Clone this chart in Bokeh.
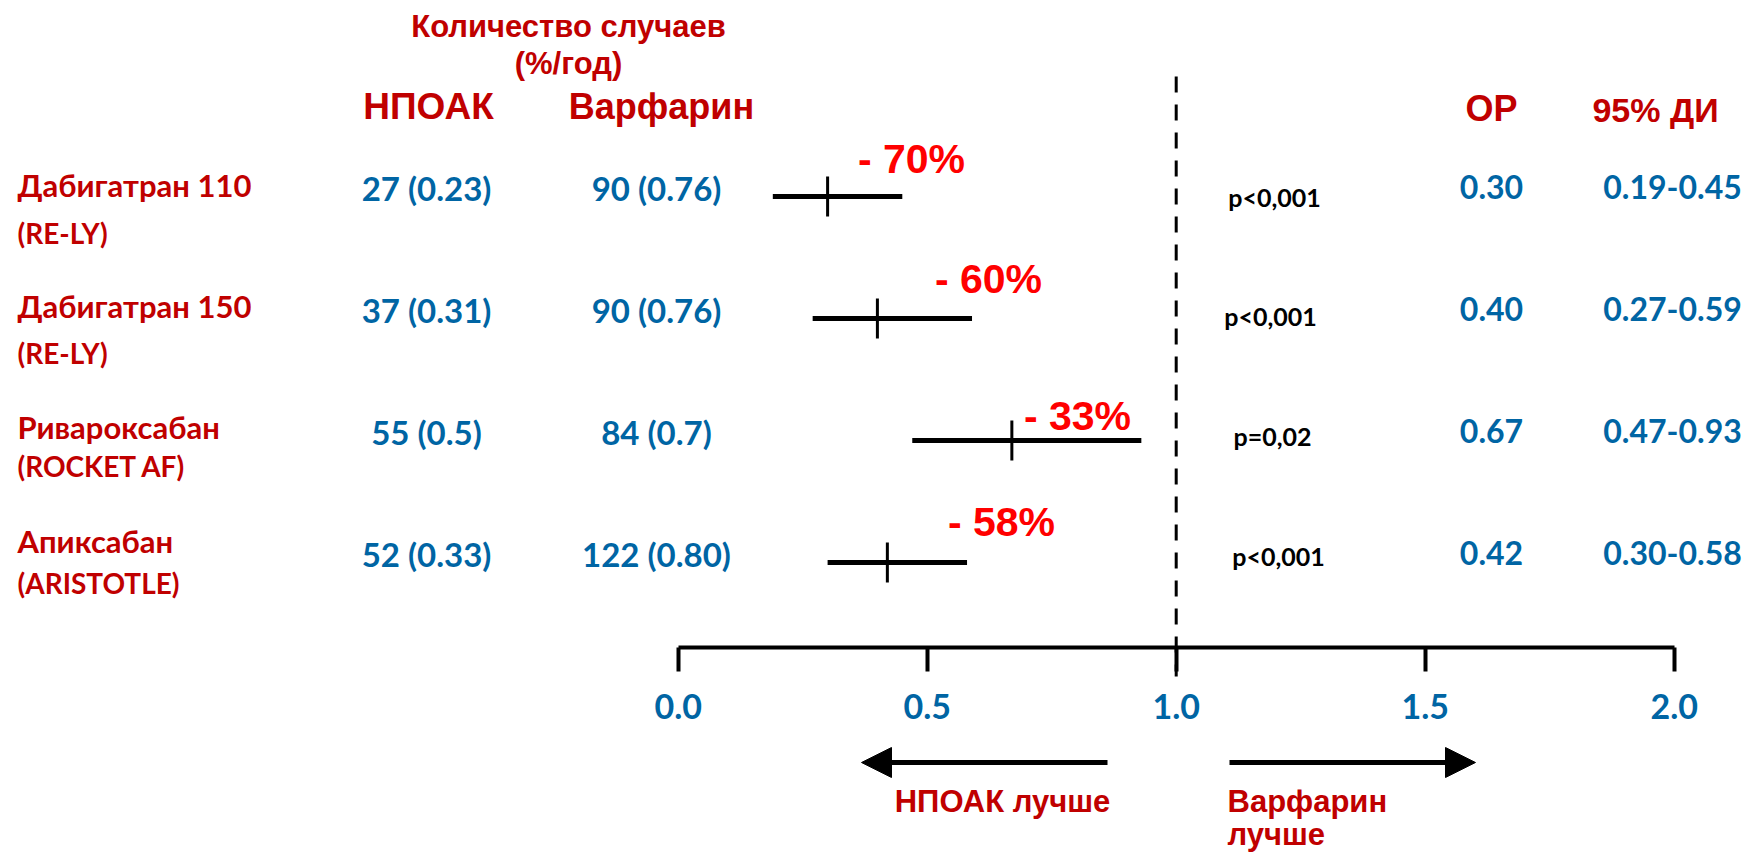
from bokeh.plotting import figure
from bokeh.models import (Range1d, LinearAxis, FixedTicker, ColumnDataSource,
                          Arrow, NormalHead, NumeralTickFormatter)
from bokeh.core.properties import value
from bokeh.embed import file_html
from bokeh.resources import INLINE

# ---------------- data ----------------
drugs = ["Дабигатран 110", "Дабигатран 150", "Ривароксабан", "Апиксабан"]
trials = ["(RE-LY)", "(RE-LY)", "(ROCKET AF)", "(ARISTOTLE)"]
noac_events = ["27 (0.23)", "37 (0.31)", "55 (0.5)", "52 (0.33)"]
warf_events = ["90 (0.76)", "90 (0.76)", "84 (0.7)", "122 (0.80)"]
hr = [0.30, 0.40, 0.67, 0.42]
ci_lo = [0.19, 0.27, 0.47, 0.30]
ci_hi = [0.45, 0.59, 0.93, 0.58]
p_values = ["p<0,001", "p<0,001", "p=0,02", "p<0,001"]
ticks = [0.0, 0.5, 1.0, 1.5, 2.0]

# ---------------- layout helpers (canvas pixel -> data) ----------------
W, H = 1750, 854
X0, XS = 677.7, 498.0      # canvas x of HR=0, pixels per HR unit
Y0, YS = 196.0, 122.0      # canvas y of first row, pixels per row


def px2x(px):
    return (px - X0) / XS


def py2y(py):
    return (py - Y0) / YS


def mid(baseline, size):
    # vertical centre of a text line from its baseline (canvas px)
    return baseline - 0.35 * size


DARK_RED = "#C00000"
BLUE = "#0065A4"
RED = "#FF0000"
ARIAL = value("Liberation Sans")
CALIBRI = value("Lato")

p = figure(width=W, height=H, output_backend="svg", toolbar_location=None,
           x_range=Range1d(px2x(0), px2x(W)),
           y_range=Range1d(py2y(H), py2y(0)),
           x_axis_type=None, y_axis_type=None, min_border=0,
           outline_line_color=None, background_fill_color="white",
           border_fill_color="white")
p.grid.visible = False

rows = list(range(len(drugs)))
src = ColumnDataSource(dict(
    row=rows, drug=drugs, trial=trials, noac=noac_events, warf=warf_events,
    hr=hr, lo=ci_lo, hi=ci_hi, p=p_values,
    hr_txt=[f"{h:.2f}" for h in hr],
    ci_txt=[f"{a:.2f}-{b:.2f}" for a, b in zip(ci_lo, ci_hi)],
    red_txt=[f"- {round((1 - h) * 100)}%" for h in hr],
))

# font sizes (px)
S_LAB1, S_LAB2, S_VAL, S_OR, S_P, S_PCT = 31, 28, 33, 32, 25, 41

# row-relative layout offsets (pixels, baselines relative to CI line)
lab1_dy = [-1, -2, -3, -11]
lab2_dy = [46, 44, 35, 30]
pct_x = [911, 988, 1077, 1001]
pct_dy = [-23, -25, -10, -26]
pval_x = [1274, 1270, 1272, 1278]
pval_cdy = [0, -3, -5, -7]

src.data["lab_x"] = [px2x(17)] * 4
src.data["lab1_y"] = [r + (mid(0, S_LAB1) + d) / YS for r, d in zip(rows, lab1_dy)]
src.data["lab2_y"] = [r + (mid(0, S_LAB2) + d) / YS for r, d in zip(rows, lab2_dy)]
src.data["val_y"] = [r + mid(3, S_VAL) / YS for r in rows]
src.data["or_y"] = [r + mid(2, S_OR) / YS for r in rows]
src.data["pv_y"] = [r + d / YS for r, d in zip(rows, pval_cdy)]
src.data["noac_x"] = [px2x(426)] * 4
src.data["warf_x"] = [px2x(656)] * 4
src.data["or_x"] = [px2x(1491)] * 4
src.data["ci_x"] = [px2x(1672)] * 4
src.data["pv_x"] = [px2x(v) for v in pval_x]
src.data["pct_x"] = [px2x(v) for v in pct_x]
src.data["pct_y"] = [r + mid(d, S_PCT) / YS for r, d in zip(rows, pct_dy)]
src.data["tick_y0"] = [r - 20 / YS for r in rows]
src.data["tick_y1"] = [r + 20 / YS for r in rows]

# reference line at HR = 1
p.segment(x0=[1.0], x1=[1.0], y0=[py2y(76)], y1=[py2y(676)],
          line_color="black", line_width=3, line_dash="16 12")

# confidence intervals and point estimates
p.segment(x0="lo", x1="hi", y0="row", y1="row", source=src,
          line_color="black", line_width=5)
p.segment(x0="hr", x1="hr", y0="tick_y0", y1="tick_y1", source=src,
          line_color="black", line_width=3)

# axis
ax = LinearAxis(fixed_location=py2y(647), ticker=FixedTicker(ticks=ticks),
                formatter=NumeralTickFormatter(format="0.0"), bounds=(0, 2),
                axis_line_width=4, axis_line_color="black",
                major_tick_line_width=4, major_tick_line_color="black",
                major_tick_in=0, major_tick_out=24,
                minor_tick_line_color=None,
                major_label_text_font="Lato", major_label_text_font_style="bold",
                major_label_text_font_size="34px", major_label_text_color=BLUE,
                major_label_standoff=22)
p.add_layout(ax, "below")

# row texts
p.text(x="lab_x", y="lab1_y", text="drug", source=src, text_font=CALIBRI,
       text_font_style="bold", text_font_size=f"{S_LAB1}px", text_color=DARK_RED,
       text_align="left", text_baseline="middle")
p.text(x="lab_x", y="lab2_y", text="trial", source=src, text_font=CALIBRI,
       text_font_style="bold", text_font_size=f"{S_LAB2}px", text_color=DARK_RED,
       text_align="left", text_baseline="middle")
for col, xcol, ycol, sz in (("noac", "noac_x", "val_y", S_VAL),
                            ("warf", "warf_x", "val_y", S_VAL),
                            ("hr_txt", "or_x", "or_y", S_OR),
                            ("ci_txt", "ci_x", "or_y", S_OR)):
    p.text(x=xcol, y=ycol, text=col, source=src, text_font=CALIBRI,
           text_font_style="bold", text_font_size=f"{sz}px", text_color=BLUE,
           text_align="center", text_baseline="middle")
p.text(x="pv_x", y="pv_y", text="p", source=src, text_font=CALIBRI,
       text_font_style="bold", text_font_size=f"{S_P}px", text_color="black",
       text_align="center", text_baseline="middle")
p.text(x="pct_x", y="pct_y", text="red_txt", source=src, text_font=ARIAL,
       text_font_style="bold", text_font_size=f"{S_PCT}px", text_color=RED,
       text_align="center", text_baseline="middle")

# headers
head_txt = ["Количество случаев", "(%/год)", "НПОАК", "Варфарин", "ОР", "95% ДИ"]
head_px = [568, 568, 428, 661, 1491, 1655]
head_base = [37, 74, 119, 119, 121, 121]
head_sz = [31, 31, 37, 36, 36, 34]
p.text(x=[px2x(v) for v in head_px],
       y=[py2y(mid(b, s)) for b, s in zip(head_base, head_sz)],
       text=head_txt, text_font_size=[f"{s}px" for s in head_sz], text_font=ARIAL,
       text_font_style="bold", text_color=DARK_RED, text_align="center",
       text_baseline="middle")

# direction arrows
ay = py2y(762)
for xs, xe in ((1107, 861), (1229, 1475)):
    p.add_layout(Arrow(x_start=px2x(xs), x_end=px2x(xe), y_start=ay, y_end=ay,
                       line_width=5, line_color="black",
                       end=NormalHead(size=30, fill_color="black",
                                      line_color="black", line_width=1)))

S_BOT = 31
p.text(x=[px2x(1002)], y=[py2y(mid(812, S_BOT))], text=["НПОАК лучше"],
       text_font=ARIAL, text_font_style="bold", text_font_size=f"{S_BOT}px",
       text_color=DARK_RED, text_align="center", text_baseline="middle")
p.text(x=[px2x(1227), px2x(1227)], y=[py2y(mid(812, S_BOT)), py2y(mid(845, S_BOT))],
       text=["Варфарин", "лучше"], text_font=ARIAL,
       text_font_style="bold", text_font_size=f"{S_BOT}px", text_color=DARK_RED,
       text_align="left", text_baseline="middle")

open("out.html", "w").write(file_html(p, INLINE))
